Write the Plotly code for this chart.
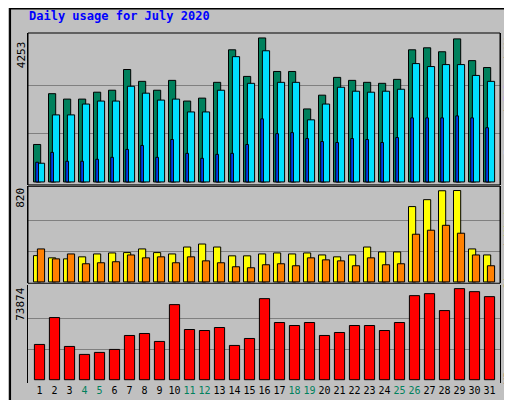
import plotly.graph_objects as go

days = list(range(1, 32))
weekend = [4, 5, 11, 12, 18, 19, 25, 26]

hits = [1107, 2607, 2447, 2447, 2651, 2709, 3321, 2971, 2709, 3000, 2389, 2476, 2942, 3903, 3117, 4253,
        3263, 3263, 2156, 2563, 3088, 3000, 2942, 2913, 3030, 3903, 3962, 3845, 4225, 3583, 3379]
pages = [553, 1981, 1981, 2301, 2389, 2389, 2826, 2622, 2418, 2447, 2068, 2068, 2709, 3700, 2913, 3874,
         2942, 2942, 1835, 2301, 2797, 2680, 2651, 2680, 2738, 3496, 3408, 3466, 3466, 3146, 2971]
files = [583, 874, 612, 612, 670, 728, 961, 1078, 728, 1253, 845, 699, 816, 845, 1107, 1864,
         1427, 1457, 1282, 1194, 1165, 1282, 1253, 1165, 1311, 1893, 1893, 1893, 1952, 1893, 1602]
visits = [236, 216, 207, 225, 251, 260, 263, 296, 263, 251, 313, 340, 313, 234, 234, 251,
          260, 251, 260, 242, 225, 242, 313, 269, 269, 676, 738, 818, 820, 296, 242]
sites = [296, 207, 251, 163, 172, 181, 242, 216, 225, 172, 225, 189, 172, 136, 127, 154,
         163, 145, 216, 198, 189, 145, 216, 154, 163, 428, 464, 508, 437, 242, 145]
kbytes = [28600, 50420, 26990, 20520, 22140, 24560, 35880, 37490, 31030, 60920, 40720, 39920, 42340,
          27800, 33450, 65770, 46380, 43960, 46380, 35880, 38300, 43960, 43960, 39920, 46380, 68200,
          69810, 56080, 73874, 71430, 67390]

max_hits, max_visits, max_kb = 4253, 820, 73874

GREEN, BLUE, CYAN = "#00805c", "#0040ff", "#00e0ff"
YELLOW, ORANGE, RED = "#ffff00", "#ff8000", "#ff0000"
MONO = "DejaVu Sans Mono"

fig = go.Figure()


def bar(y, color, offset, width, axis):
    return go.Bar(x=days, y=y, marker=dict(color=color, line=dict(color="black", width=1)),
                  offset=offset, width=width, xaxis="x", yaxis=axis, showlegend=False)


fig.add_trace(bar(hits, GREEN, -0.40, 0.48, "y"))
fig.add_trace(bar(pages, CYAN, -0.14, 0.48, "y"))
fig.add_trace(bar(files, BLUE, -0.25, 0.18, "y"))
fig.add_trace(bar(visits, YELLOW, -0.40, 0.48, "y2"))
fig.add_trace(bar(sites, ORANGE, -0.14, 0.48, "y2"))
fig.add_trace(bar(kbytes, RED, -0.34, 0.68, "y3"))

ticktext = [f"<span style='color:{GREEN}'>{d}</span>" if d in weekend else str(d) for d in days]


def yax(dom, lo, hi, m):
    return dict(domain=dom, range=[lo, hi], tickvals=[m / 3, 2 * m / 3], showticklabels=False,
                ticks="", gridcolor="#808080", gridwidth=1, zeroline=False, showline=True,
                linecolor="black", mirror=True, fixedrange=True)


fig.update_layout(
    width=512, height=400,
    margin=dict(l=20, r=20, t=25, b=20),
    paper_bgcolor="#c0c0c0", plot_bgcolor="#c0c0c0",
    barmode="overlay",
    font=dict(family=MONO, size=11, color="black"),
    xaxis=dict(range=[0.233, 31.7], tickvals=days, ticktext=ticktext, ticks="", showgrid=False,
               zeroline=False, anchor="y3", tickangle=0, tickfont=dict(size=10), fixedrange=True),
    yaxis=yax([0.566, 1.0], -87, 4399, max_hits),
    yaxis2=yax([0.285, 0.562], -12, 858, max_visits),
    yaxis3=yax([0.0, 0.279], -2670, 76540, max_kb),
)

# frames around the upper panels
for ax in ["y", "y2"]:
    fig.add_shape(type="rect", xref="x domain", yref=f"{ax} domain", x0=0, x1=1, y0=0, y1=1,
                  line=dict(color="black", width=1))

fig.add_shape(type="rect", xref="paper", yref="paper", x0=-0.038, x1=1.035, y0=-0.055, y1=1.07,
              line=dict(color="black", width=2), layer="below")

fig.add_annotation(text="<b>Daily usage for July 2020</b>", xref="paper", yref="paper", x=-0.003,
                   y=1.075, xanchor="left", yanchor="top", showarrow=False,
                   font=dict(family=MONO, size=12, color="#0000ff"))

for ax, m, yc in [("y", max_hits, 0.86), ("y2", max_visits, 0.88), ("y3", max_kb, 0.81)]:
    fig.add_annotation(text=str(m), xref="paper", yref=f"{ax} domain", x=-0.015, y=yc,
                       xanchor="center", yanchor="middle", textangle=-90, showarrow=False,
                       font=dict(family=MONO, size=11))

legends = [
    ("y", 0.63, f"<span style='color:{CYAN}'>Pages</span> / <span style='color:{BLUE}'>Files</span> / "
                f"<span style='color:{GREEN}'>Hits</span>"),
    ("y2", 0.41, f"<span style='color:{ORANGE}'>Sites</span> / <span style='color:{YELLOW}'>Visits</span>"),
    ("y3", 0.19, f"<span style='color:{RED}'>KBytes</span>"),
]
for ax, yc, txt in legends:
    fig.add_annotation(text=txt, xref="paper", yref=f"{ax} domain", x=1.017, y=yc,
                       xanchor="center", yanchor="middle", textangle=-90,
                       showarrow=False, font=dict(family=MONO, size=11, color="black"))

fig.write_html("out.html")
